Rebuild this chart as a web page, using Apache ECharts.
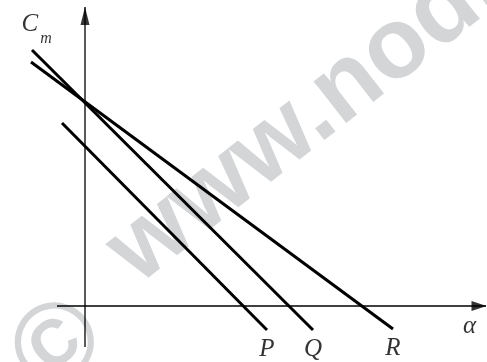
<!DOCTYPE html>
<html>
<head>
<meta charset="UTF-8">
<script src="https://cdn.jsdelivr.net/npm/echarts@6/dist/echarts.min.js"></script>
<style>
  html, body { margin: 0; padding: 0; background: #fff; }
  #chart { width: 487px; height: 362px; }
</style>
</head>
<body>
<div id="chart"></div>
<script type="text/javascript">
// Line names and their end points (alpha, Cm).
const lineNames = ['P', 'Q', 'R'];
const lineStart = [[-2.3, 18.3], [-5.3, 25.6], [-5.4, 24.4]];
const lineEnd = [[18.2, -2.4], [22.8, -2.4], [30.8, -2.3]];

// Axis extents.
const xAxisFrom = [-2.8, 0];
const xAxisTo = [40.1, 0];
const yAxisFrom = [0, -4.1];
const yAxisTo = [0, 29.9];

const xName = 'α';
const yName = 'C';
const ySub = 'm';
const watermarkSign = '©';
const watermark = 'www.nodia.co.in';

const chart = echarts.init(document.getElementById('chart'));

const serif = '"Liberation Serif", "DejaVu Serif", serif';
const markFont = '"Liberation Sans", Arial, sans-serif';
const tilt = 38 * Math.PI / 180;

const option = {
    backgroundColor: '#ffffff',
    animation: false,
    grid: { left: 0, right: 0, top: 0, bottom: 0 },
    xAxis: { type: 'value', min: -8.5, max: 40.2, show: false },
    yAxis: { type: 'value', min: -5.6, max: 30.6, show: false },
    graphic: [{
        type: 'text',
        z: 0,
        x: 59,
        y: 348,
        rotation: tilt,
        style: {
            text: watermarkSign,
            fill: '#d3d5d7',
            font: 'bold 112px ' + markFont,
            textAlign: 'center',
            textVerticalAlign: 'middle'
        }
    }, {
        type: 'text',
        z: 0,
        x: 121,
        y: 264,
        rotation: tilt,
        style: {
            text: watermark,
            fill: '#d3d5d7',
            font: 'bold 100px ' + markFont,
            textAlign: 'left',
            textVerticalAlign: 'middle'
        }
    }],
    series: [
        // axes
        {
            type: 'line',
            data: [xAxisFrom, xAxisTo],
            symbol: 'none',
            lineStyle: { color: '#000', width: 1.3 },
            z: 3
        },
        {
            type: 'line',
            data: [yAxisFrom, yAxisTo],
            symbol: 'none',
            lineStyle: { color: '#000', width: 1.3 },
            z: 3
        },
        // arrow heads and axis names
        {
            type: 'scatter',
            data: [{
                value: xAxisTo,
                symbolRotate: -90,
                symbolSize: [10, 15],
                symbolOffset: [-7, 0],
                label: {
                    show: true,
                    formatter: xName,
                    position: [-2, 25],
                    align: 'center',
                    verticalAlign: 'middle',
                    fontFamily: serif,
                    fontStyle: 'italic',
                    fontSize: 25,
                    color: '#000'
                }
            }, {
                value: yAxisTo,
                symbolSize: [9, 18],
                symbolOffset: [0, 9],
                label: {
                    show: true,
                    formatter: '{c|' + yName + '}{s|' + ySub + '}',
                    position: [-59, 5],
                    align: 'left',
                    verticalAlign: 'top',
                    rich: {
                        c: { fontFamily: serif, fontStyle: 'italic', fontSize: 25, color: '#000', lineHeight: 26, verticalAlign: 'top' },
                        s: { fontFamily: serif, fontStyle: 'italic', fontSize: 16, color: '#000', lineHeight: 16, verticalAlign: 'top', padding: [19, 0, 0, 2] }
                    }
                }
            }],
            symbol: 'triangle',
            itemStyle: { color: '#000' },
            z: 4
        },
        // the three lines
        ...lineNames.map((name, i) => ({
            name: name,
            type: 'line',
            data: [lineStart[i], lineEnd[i]],
            symbol: 'none',
            lineStyle: { color: '#000', width: 3 },
            z: 5
        })),
        // line names under the lower ends
        {
            type: 'scatter',
            data: lineNames.map((name, i) => ({ name: name, value: lineEnd[i] })),
            symbolSize: 0,
            label: {
                show: true,
                formatter: '{b}',
                position: 'bottom',
                distance: 7,
                fontFamily: serif,
                fontStyle: 'italic',
                fontSize: 25,
                color: '#000'
            },
            z: 5
        }
    ]
};

chart.setOption(option);
</script>
</body>
</html>
